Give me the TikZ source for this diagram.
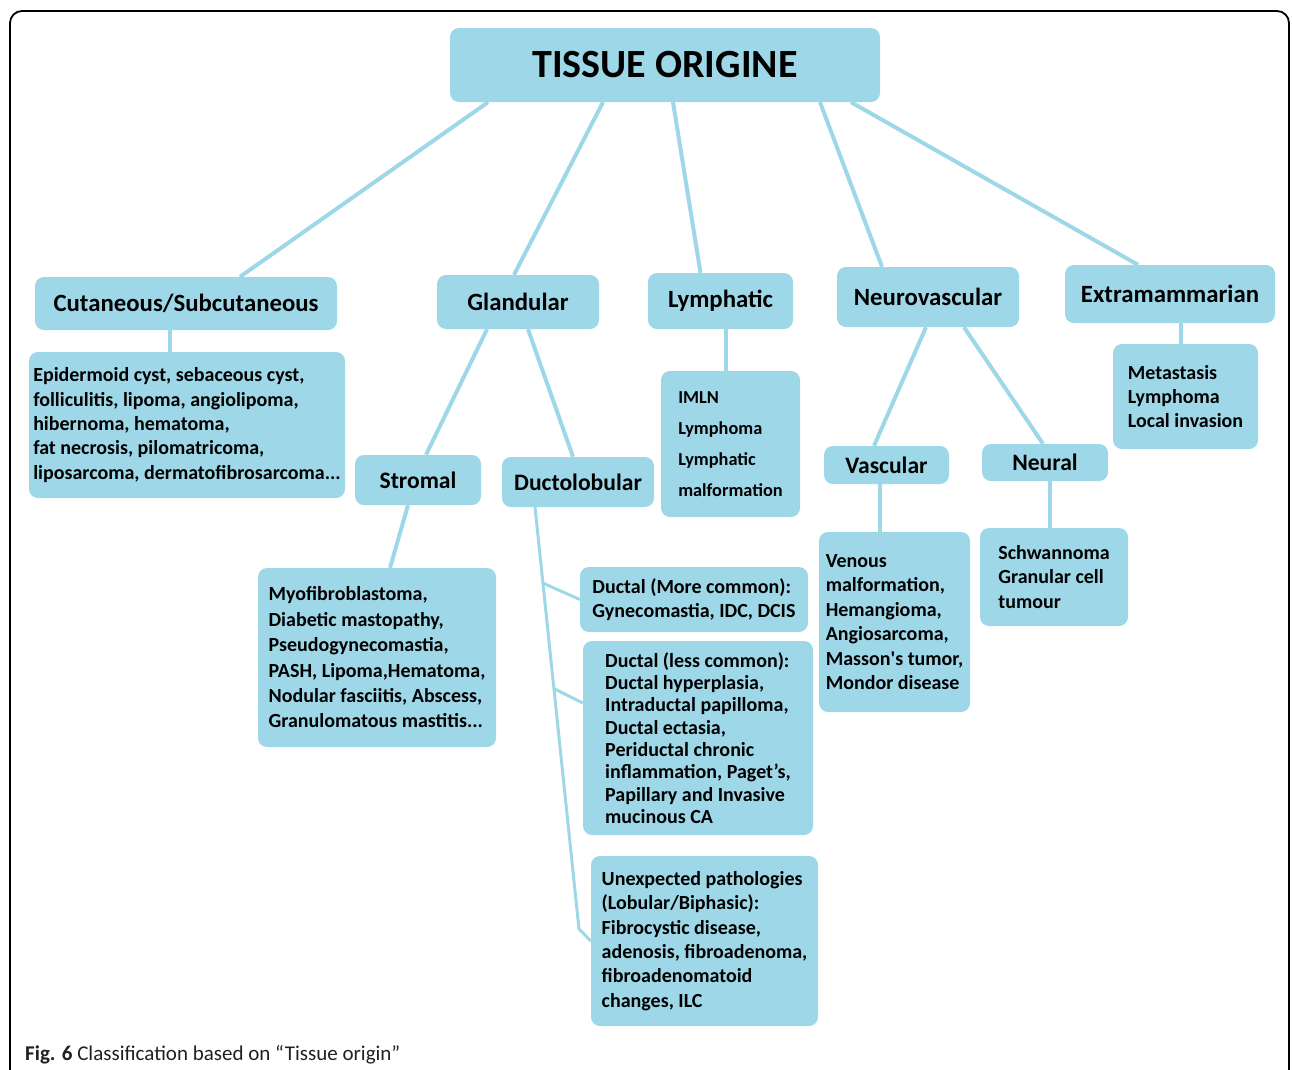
\documentclass[tikz,border=0pt]{standalone}
\usepackage{fontspec}
\setmainfont{Carlito}
\usetikzlibrary{calc}
\definecolor{tissue}{RGB}{158,216,232}
\definecolor{capgray}{RGB}{35,31,32}
\tikzset{
	head/.style={fill=tissue, rounded corners=9pt, inner sep=0pt,
		font=\bfseries\fontsize{24.8}{28}\selectfont},
	sub/.style={head, font=\bfseries\fontsize{23.6}{27}\selectfont},
	list/.style={fill=tissue, rounded corners=9pt, inner sep=0pt, align=left,
		font=\bfseries\fontsize{20}{24.4}\selectfont},
	link/.style={draw=tissue, line width=4pt},
}
\begin{document}
\begin{tikzpicture}[x=1pt, y=-1pt]
	\useasboundingbox (0,0) rectangle (1292,1069);
	% frame
	\draw[line width=1.8pt, rounded corners=12pt] (10,1080) -- (10,11) -- (1289,11) -- (1289,1080);

	% first level
	\node[head, minimum width=430, minimum height=74, font=\bfseries\fontsize{40}{44}\selectfont] (root) at (665,65) {TISSUE ORIGINE};
	\node[head, minimum width=302, minimum height=53] (cut) at (186,303.5) {Cutaneous/Subcutaneous};
	\node[head, minimum width=162, minimum height=54] (gland) at (518,302) {Glandular};
	\node[head, minimum width=145, minimum height=56] (lymph) at (720.5,301) {Lymphatic};
	\node[head, minimum width=182, minimum height=60] (neuro) at (928,297) {Neurovascular};
	\node[head, minimum width=210, minimum height=58] (extra) at (1170,294) {Extramammarian};

	% second level
	\node[sub, minimum width=126, minimum height=50] (strom) at (418,480) {Stromal};
	\node[sub, minimum width=152, minimum height=50] (ducto) at (578,482) {Ductolobular};
	\node[sub, minimum width=125, minimum height=38] (vasc) at (886.5,465) {Vascular};
	\node[sub, minimum width=126, minimum height=37] (neural) at (1045,462.5) {Neural};

	% lists
	\node[list, minimum width=316, minimum height=146] (epi) at (187,425) {Epidermoid cyst, sebaceous cyst,\\ folliculitis, lipoma, angiolipoma,\\ hibernoma, hematoma,\\ fat necrosis, pilomatricoma,\\ liposarcoma, dermatofibrosarcoma...};
	\node[list, minimum width=139, minimum height=146, font=\bfseries\fontsize{18.3}{31}\selectfont] (imln) at (730.5,444) {IMLN\\ Lymphoma\\ Lymphatic\\ malformation};
	\node[list, minimum width=145, minimum height=105] (metas) at (1185.5,396.5) {Metastasis\\ Lymphoma\\ Local invasion};
	\node[list, minimum width=238, minimum height=179, font=\bfseries\fontsize{20}{25.4}\selectfont] (myo) at (377,657.5) {Myofibroblastoma,\\ Diabetic mastopathy,\\ Pseudogynecomastia,\\ PASH, Lipoma,Hematoma,\\ Nodular fasciitis, Abscess,\\ Granulomatous mastitis...};
	\node[list, minimum width=228, minimum height=65] (dmore) at (694,599.5) {Ductal (More common):\\ Gynecomastia, IDC, DCIS};
	\node[list, minimum width=230, minimum height=194, font=\bfseries\fontsize{20}{22.3}\selectfont] (dless) at (698,738) {Ductal (less common):\\ Ductal hyperplasia,\\ Intraductal papilloma,\\ Ductal ectasia,\\ Periductal chronic\\ inflammation, Paget’s,\\ Papillary and Invasive\\ mucinous CA};
	\node[list, minimum width=227, minimum height=170] (unexp) at (704.5,941) {Unexpected pathologies\\ (Lobular/Biphasic):\\ Fibrocystic disease,\\ adenosis, fibroadenoma,\\ fibroadenomatoid\\ changes, ILC};
	\node[list, minimum width=151, minimum height=180] (venous) at (894.5,622) {Venous\\ malformation,\\ Hemangioma,\\ Angiosarcoma,\\ Masson\textquotesingle s tumor,\\ Mondor disease};
	\node[list, minimum width=148, minimum height=98] (schw) at (1054,577) {Schwannoma\\ Granular cell\\ tumour};

	% connectors
	\draw[link] ([xshift=-177pt]root.south) -- ([xshift=54pt]cut.north);
	\draw[link] ([xshift=-62pt]root.south) -- ([xshift=-4pt]gland.north);
	\draw[link] ([xshift=8pt]root.south) -- ([xshift=-20pt]lymph.north);
	\draw[link] ([xshift=155pt]root.south) -- ([xshift=-46pt]neuro.north);
	\draw[link] ([xshift=186pt]root.south) -- ([xshift=-32pt]extra.north);

	\draw[link] ([xshift=-16pt]cut.south) -- ([xshift=-16pt]cut.south |- epi.north);
	\draw[link] ([xshift=-31pt]gland.south) -- ([xshift=8pt]strom.north);
	\draw[link] ([xshift=10pt]gland.south) -- ([xshift=-5pt]ducto.north);
	\draw[link] ([xshift=5.5pt]lymph.south) -- ([xshift=5.5pt]lymph.south |- imln.north);
	\draw[link] ([xshift=-2pt]neuro.south) -- ([xshift=-12.5pt]vasc.north);
	\draw[link] ([xshift=36pt]neuro.south) -- ([xshift=-2pt]neural.north);
	\draw[link] ([xshift=11pt]extra.south) -- ([xshift=11pt]extra.south |- metas.north);
	\draw[link] ([xshift=-10pt]strom.south) -- ([xshift=13pt]myo.north);
	\draw[link] ([xshift=-6.5pt]vasc.south) -- ([xshift=-6.5pt]vasc.south |- venous.north);
	\draw[link] ([xshift=5pt]neural.south) -- ([xshift=5pt]neural.south |- schw.north);

	% ductolobular trunk
	\coordinate (dtop) at ([xshift=-43pt]ducto.south);
	\coordinate (dend) at (579,929);
	\draw[link, line width=3pt] (dtop) -- (dend) -- (unexp.west);
	\draw[link, line width=3pt] ($(dtop)!0.18!(dend)$) -- (dmore.west);
	\draw[link, line width=3pt] ($(dtop)!0.43!(dend)$) -- ([yshift=35pt]dless.west);

	% caption
	\node[anchor=base west, inner sep=0pt, text=capgray, font=\fontsize{21}{24}\selectfont] (cap) at (25,1060) {\textbf{Fig. 6} Classification based on “Tissue origin”};
\end{tikzpicture}
\end{document}
